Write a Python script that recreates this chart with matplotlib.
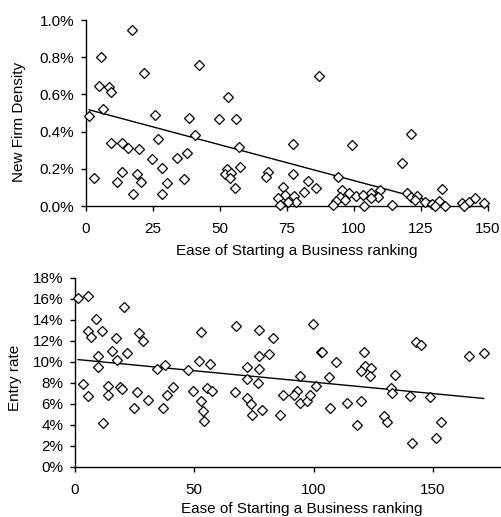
import matplotlib
matplotlib.use("Agg")
import matplotlib.pyplot as plt
from matplotlib.ticker import PercentFormatter, MultipleLocator

plt.rcParams['font.family'] = ['Liberation Sans', 'DejaVu Sans']
plt.rcParams['font.size'] = 11

# top panel: ease of starting a business ranking vs new firm density (%)
density_rank = [1.3, 2.8, 5.6, 4.9, 8.6, 9.4, 6.3, 17.0, 21.7, 42.1, 25.7, 38.3, 40.6, 26.7,
                9.3, 13.6, 15.6, 19.6, 24.6, 34.1, 37.7, 28.2, 13.3, 11.7, 18.9, 20.5, 17.4,
                28.4, 30.4, 36.6,
                86.8, 53.0, 49.6, 56.1, 57.0, 77.4, 99.4, 52.6, 51.7, 54.2, 53.9, 57.3, 55.7,
                67.8, 67.0, 77.4, 82.7, 85.8, 81.5, 73.4, 74.4, 71.5, 77.5, 78.4, 72.5, 75.5,
                94.2, 95.7, 94.7, 93.2, 92.0, 96.5,
                121.4, 118.0, 132.7, 98.2, 100.7, 103.2, 106.3, 109.6, 109.1, 106.3, 103.8,
                114.1, 119.9, 121.1, 123.6, 122.9, 126.5, 129.2, 131.9, 133.9, 130.4, 140.3,
                142.8, 145.0, 148.4, 140.9]
density_val = [0.484, 0.152, 0.80, 0.645, 0.64, 0.615, 0.52, 0.946, 0.717, 0.758, 0.489, 0.471,
               0.382, 0.358, 0.34, 0.34, 0.31, 0.305, 0.251, 0.256, 0.287, 0.203, 0.181, 0.131,
               0.17, 0.131, 0.065, 0.065, 0.122, 0.143,
               0.699, 0.588, 0.468, 0.468, 0.315, 0.332, 0.328, 0.197, 0.172, 0.179, 0.152,
               0.211, 0.095, 0.184, 0.158, 0.17, 0.134, 0.098, 0.077, 0.10, 0.059, 0.045,
               0.056, 0.023, 0.005, 0.02, 0.158, 0.086, 0.05, 0.029, 0.005, 0.032,
               0.385, 0.233, 0.091, 0.068, 0.056, 0.06, 0.072, 0.086, 0.05, 0.041, 0.0,
               0.005, 0.068, 0.047, 0.054, 0.032, 0.023, 0.009, 0.029, 0.0, 0.0, 0.018,
               0.023, 0.041, 0.014, 0.0]
density_trend_x = [1.2, 148.4]
density_trend_y = [0.517, -0.050]

# bottom panel: ease of starting a business ranking vs entry rate (%)
entry_rank = [1.4, 5.6, 20.5, 8.7, 5.6, 6.7, 11.2, 17.0, 26.8, 28.4, 9.5, 9.5, 15.4, 17.5, 21.7,
              3.2, 5.3, 13.7, 14.0, 18.9, 19.6, 25.8, 30.7, 24.7, 11.6, 34.2, 37.7, 40.9, 38.7,
              36.7, 47.5, 52.8, 52.1, 49.6, 52.7, 53.8, 54.0, 56.6, 55.2, 57.3,
              67.7, 77.2, 82.8, 99.6, 103.3, 103.7, 77.2, 81.4, 71.9, 77.2, 71.9, 76.8, 94.3,
              106.5, 109.3, 101.0, 67.0, 71.9, 73.7, 78.2, 74.3, 85.9, 87.0, 92.9, 91.8, 94.3,
              97.3, 98.5, 106.8, 114.1,
              121.1, 121.5, 120.1, 123.9, 123.6, 134.1, 142.9, 145.2, 165.1, 171.3, 132.4,
              132.9, 140.6, 148.7, 120.1, 118.4, 129.6, 131.0, 153.6, 151.5, 141.1]
entry_val = [16.1, 16.3, 15.2, 14.1, 12.9, 12.4, 12.9, 12.3, 12.7, 12.0, 10.5, 9.5, 11.0, 10.2,
             10.8, 7.9, 6.7, 7.7, 6.8, 7.6, 7.4, 7.1, 6.4, 5.6, 4.2, 9.3, 9.7, 7.6, 6.8, 5.6,
             9.2, 12.8, 10.1, 7.2, 6.3, 5.3, 4.4, 9.8, 7.5, 7.2,
             13.4, 13.0, 12.3, 13.6, 10.95, 10.9, 10.5, 10.7, 9.5, 9.3, 8.4, 8.0, 8.6, 8.5,
             10.0, 7.7, 7.1, 6.5, 6.0, 5.4, 4.9, 4.9, 6.8, 7.2, 6.8, 6.1, 6.3, 6.8, 5.6, 6.1,
             10.95, 9.6, 9.1, 9.4, 8.6, 8.7, 11.9, 11.6, 10.5, 10.8, 7.5, 7.0, 6.7, 6.6, 6.3,
             4.0, 4.8, 4.3, 4.3, 2.7, 2.3]
entry_trend_x = [1.3, 171.3]
entry_trend_y = [10.2, 6.5]

W, H = 502, 517
fig = plt.figure(figsize=(W / 100, H / 100), dpi=100)

# axes placed from pixel positions of the reference
ax1 = fig.add_axes([86 / W, 1 - 206 / H, (488 - 86) / W, (206 - 20) / H])
ax2 = fig.add_axes([75 / W, 1 - 466.7 / H, (502 - 75) / W, (466.7 - 277.7) / H])

marker_kw = dict(marker='D', ms=4.7, mfc='white', mec='black', mew=0.9, ls='none', clip_on=False, zorder=3)

ax1.plot(density_trend_x, density_trend_y, color='black', lw=1.0, zorder=2)
ax1.plot(density_rank, density_val, **marker_kw)
ax1.set_xlim(0, 150)
ax1.set_ylim(0, 1.0)
ax1.xaxis.set_major_locator(MultipleLocator(25))
ax1.yaxis.set_major_locator(MultipleLocator(0.2))
ax1.yaxis.set_major_formatter(PercentFormatter(xmax=100, decimals=1))
ax1.set_xlabel('Ease of Starting a Business ranking')
ax1.set_ylabel('New Firm Density')
ax1.xaxis.set_label_coords(0.524, -0.205)
ax1.yaxis.set_label_coords(-0.15, 0.45)

ax2.plot(entry_trend_x, entry_trend_y, color='black', lw=1.0, zorder=2)
ax2.plot(entry_rank, entry_val, **marker_kw)
ax2.set_xlim(0, 179)
ax2.set_ylim(0, 18)
ax2.set_xticks([0, 50, 100, 150])
ax2.yaxis.set_major_locator(MultipleLocator(2))
ax2.yaxis.set_major_formatter(PercentFormatter(xmax=100, decimals=0))
ax2.set_xlabel('Ease of Starting a Business ranking')
ax2.set_ylabel('Entry rate')
ax2.xaxis.set_label_coords(0.531, -0.185)
ax2.yaxis.set_label_coords(-0.125, 0.47)

for ax in (ax1, ax2):
    ax.spines['top'].set_visible(False)
    ax.spines['right'].set_visible(False)
    ax.spines['left'].set_linewidth(1.0)
    ax.spines['bottom'].set_linewidth(1.0)
    ax.tick_params(direction='out', length=3.5, width=1.0, labelsize=11)
    ax.tick_params(axis='x', pad=8)
    ax.tick_params(axis='y', pad=5)

fig.savefig('out.png', dpi=100)
